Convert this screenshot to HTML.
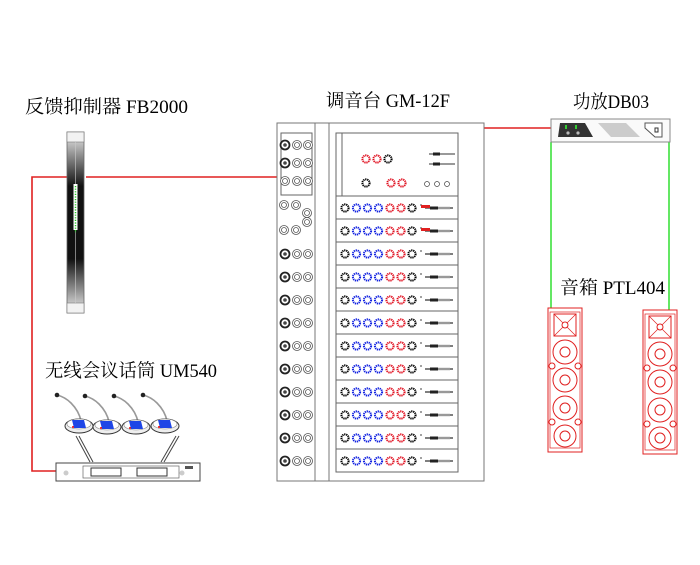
<!DOCTYPE html>
<html><head><meta charset="utf-8"><style>
body{margin:0;background:#fff;width:700px;height:560px;overflow:hidden}
text{font-family:"Liberation Serif","Noto Serif CJK SC","Noto Sans CJK SC",serif;font-size:18.5px;fill:#000}
</style></head><body>
<svg width="700" height="560" viewBox="0 0 700 560" xmlns="http://www.w3.org/2000/svg">
<defs>
<linearGradient id="fb" x1="0" x2="0" y1="0" y2="1">
<stop offset="0" stop-color="#eee"/><stop offset="0.3" stop-color="#111"/><stop offset="0.7" stop-color="#111"/><stop offset="1" stop-color="#eee"/></linearGradient>
<g id="kb"><circle r="3.6" fill="#fff" stroke="#000" stroke-width="2" stroke-dasharray="1.3 0.7"/></g>
<g id="kl"><circle r="3.6" fill="#fff" stroke="#1020e0" stroke-width="2" stroke-dasharray="1.3 0.7"/></g>
<g id="kr"><circle r="3.6" fill="#fff" stroke="#e01020" stroke-width="2" stroke-dasharray="1.3 0.7"/></g>
<g id="ring"><circle r="4.5" fill="#fff" stroke="#555" stroke-width="0.8"/><circle r="2.5" fill="none" stroke="#555" stroke-width="0.8"/></g>
<g id="xlr"><circle r="4.5" fill="#fff" stroke="#222" stroke-width="1.8"/><circle r="1.8" fill="#444"/></g>
<g id="strip">
<rect x="336" y="0" width="122" height="23" fill="#fff" stroke="#666" stroke-width="1"/>
<use href="#kb" x="345" y="12"/><use href="#kl" x="356.5" y="12"/><use href="#kl" x="367.5" y="12"/><use href="#kl" x="378.5" y="12"/><use href="#kr" x="390" y="12"/><use href="#kr" x="401" y="12"/><use href="#kb" x="412" y="12"/>
<line x1="421" y1="8" x2="421" y2="10" stroke="#444"/>
<line x1="425" y1="12" x2="453" y2="12" stroke="#333" stroke-width="1.2"/>
<rect x="430" y="10.5" width="8" height="3" fill="#222"/>
<rect x="438" y="10.8" width="12" height="2.4" fill="#999"/>
<use href="#xlr" x="285" y="12"/><use href="#ring" x="297" y="12"/><use href="#ring" x="308" y="12"/>
</g>
<g id="spk">
<rect x="0" y="0" width="34" height="144" fill="#fff" stroke="#e02020" stroke-width="1"/>
<rect x="2" y="4" width="30" height="136" fill="none" stroke="#e02020" stroke-width="0.7"/>
<rect x="6" y="6" width="22" height="22" fill="none" stroke="#e02020"/>
<path d="M6 6L28 28M28 6L6 28" stroke="#e02020" stroke-width="0.7"/><circle cx="17" cy="17" r="3" fill="#fff" stroke="#e02020"/>
<circle cx="17" cy="44" r="12" fill="#fff" stroke="#e02020"/><circle cx="17" cy="44" r="5" fill="none" stroke="#e02020"/>
<circle cx="17" cy="72" r="12" fill="#fff" stroke="#e02020"/><circle cx="17" cy="72" r="5" fill="none" stroke="#e02020"/>
<circle cx="17" cy="100" r="12" fill="#fff" stroke="#e02020"/><circle cx="17" cy="100" r="5" fill="none" stroke="#e02020"/>
<circle cx="17" cy="128" r="11" fill="#fff" stroke="#e02020"/><circle cx="17" cy="128" r="5" fill="none" stroke="#e02020"/>
<circle cx="4" cy="58" r="3" fill="#fff" stroke="#e02020"/><circle cx="30" cy="58" r="3" fill="#fff" stroke="#e02020"/>
<circle cx="4" cy="114" r="3" fill="#fff" stroke="#e02020"/><circle cx="30" cy="114" r="3" fill="#fff" stroke="#e02020"/>
</g>
<g id="mic">
<path d="M0 0 Q8 2 14 8 Q22 16 24 26" fill="none" stroke="#999" stroke-width="1.6"/>
<circle cx="0" cy="0" r="2.3" fill="#222"/>
<ellipse cx="22" cy="31" rx="14" ry="7" fill="#eee" stroke="#333"/>
<ellipse cx="22" cy="29" rx="12" ry="5" fill="#fff" stroke="#888" stroke-width="0.6"/>
<path d="M15 25L27 25L29 33L17 33Z" fill="#1e46e6"/>
<circle cx="16" cy="32" r="1" fill="#e00"/>
</g>
</defs>

<text x="25" y="113" textLength="163" lengthAdjust="spacingAndGlyphs">反馈抑制器 FB2000</text>
<text x="326" y="107" textLength="124" lengthAdjust="spacingAndGlyphs">调音台 GM-12F</text>
<text x="573" y="108" textLength="76" lengthAdjust="spacingAndGlyphs">功放DB03</text>
<text x="560" y="294" textLength="105" lengthAdjust="spacingAndGlyphs">音箱 PTL404</text>
<text x="45" y="377" textLength="172" lengthAdjust="spacingAndGlyphs">无线会议话筒 UM540</text>

<polyline points="277,177 86,177" fill="none" stroke="#e02020" stroke-width="1.6"/>
<polyline points="68,177 32,177 32,471 56,471" fill="none" stroke="#e02020" stroke-width="1.6"/>
<line x1="484" y1="128" x2="556" y2="128" stroke="#e02020" stroke-width="1.6"/>
<line x1="551" y1="142" x2="551" y2="310" stroke="#22dd22" stroke-width="1.4"/>
<line x1="669" y1="142" x2="669" y2="312" stroke="#22dd22" stroke-width="1.4"/>

<rect x="67" y="132" width="17" height="181" fill="url(#fb)" stroke="#666" stroke-width="0.8"/>
<rect x="67" y="132" width="17" height="10" fill="#f2f2f2" stroke="#777" stroke-width="0.6"/>
<rect x="67" y="303" width="17" height="10" fill="#f2f2f2" stroke="#777" stroke-width="0.6"/>
<line x1="75.5" y1="142" x2="75.5" y2="303" stroke="#ccc" stroke-width="0.6"/>
<rect x="73.5" y="184" width="4" height="46" fill="#fff"/>
<line x1="75.5" y1="186" x2="75.5" y2="233" stroke="#22cc22" stroke-width="1.5" stroke-dasharray="1.2 1.4"/>

<rect x="277" y="123" width="207" height="358" fill="#fff" stroke="#777" stroke-width="1"/>
<line x1="315" y1="123" x2="315" y2="481" stroke="#777"/>
<line x1="329" y1="123" x2="329" y2="481" stroke="#777"/>
<rect x="281" y="133" width="31" height="62" fill="#fff" stroke="#666"/>
<use href="#xlr" x="285" y="145"/><use href="#ring" x="297" y="145"/><use href="#ring" x="308" y="145"/>
<use href="#xlr" x="285" y="163"/><use href="#ring" x="297" y="163"/><use href="#ring" x="308" y="163"/>
<use href="#ring" x="285" y="181"/><use href="#ring" x="297" y="181"/><use href="#ring" x="308" y="181"/>
<rect x="336" y="133" width="122" height="63" fill="#fff" stroke="#666"/>
<line x1="342" y1="133" x2="342" y2="196" stroke="#666"/>
<use href="#kr" x="366" y="159"/><use href="#kr" x="377" y="159"/><use href="#kb" x="388" y="159"/>
<use href="#kb" x="366" y="183"/><use href="#kr" x="391" y="183"/><use href="#kr" x="402" y="183"/>
<circle cx="427" cy="184" r="2.5" fill="#fff" stroke="#444" stroke-width="0.7"/><circle cx="437" cy="184" r="2.5" fill="#fff" stroke="#444" stroke-width="0.7"/><circle cx="447" cy="184" r="2.5" fill="#fff" stroke="#444" stroke-width="0.7"/>
<line x1="429" y1="154" x2="455" y2="154" stroke="#333"/><rect x="433" y="152.5" width="7" height="3" fill="#222"/><rect x="441" y="153" width="12" height="2" fill="#999"/>
<line x1="429" y1="164" x2="455" y2="164" stroke="#333"/><rect x="433" y="162.5" width="7" height="3" fill="#222"/><rect x="441" y="163" width="12" height="2" fill="#999"/>
<use href="#strip" y="196"/>
<use href="#strip" y="219"/>
<use href="#strip" y="242"/>
<use href="#strip" y="265"/>
<use href="#strip" y="288"/>
<use href="#strip" y="311"/>
<use href="#strip" y="334"/>
<use href="#strip" y="357"/>
<use href="#strip" y="380"/>
<use href="#strip" y="403"/>
<use href="#strip" y="426"/>
<use href="#strip" y="449"/>
<rect x="279" y="198" width="34" height="40" fill="#fff"/>
<use href="#ring" x="284" y="205"/><use href="#ring" x="296" y="205"/><use href="#ring" x="307" y="213"/><use href="#ring" x="307" y="222"/><use href="#ring" x="284" y="230"/><use href="#ring" x="296" y="230"/>
<rect x="421" y="205" width="9" height="3" fill="#e02020"/><rect x="421" y="228" width="9" height="3" fill="#e02020"/>

<rect x="551" y="119" width="119" height="23" fill="#fafafa" stroke="#888"/>
<path d="M560 123L585 123L593 137L558 137Z" fill="#333"/>
<rect x="565" y="125" width="2" height="4" fill="#3c3"/><rect x="575" y="125" width="2" height="4" fill="#3c3"/>
<circle cx="568" cy="133" r="1.6" fill="#bbb"/><circle cx="578" cy="133" r="1.6" fill="#bbb"/>
<path d="M598 123L626 123L640 137L611 137Z" fill="#ccc"/>
<path d="M645 123L662 123L662 137L655 137L645 128Z" fill="#fff" stroke="#555"/>
<rect x="655" y="128" width="3" height="4" fill="none" stroke="#333"/>

<use href="#spk" x="548" y="308"/>
<use href="#spk" x="643" y="310"/>

<use href="#mic" x="57" y="395"/>
<use href="#mic" x="85" y="396"/>
<use href="#mic" x="114" y="396"/>
<use href="#mic" x="143" y="395"/>
<line x1="76" y1="436" x2="90" y2="462" stroke="#444"/><line x1="79" y1="436" x2="93" y2="462" stroke="#444"/>
<line x1="179" y1="436" x2="164" y2="462" stroke="#444"/><line x1="176" y1="436" x2="161" y2="462" stroke="#444"/>
<rect x="56" y="463" width="144" height="18" fill="#fff" stroke="#444"/>
<rect x="83" y="466" width="96" height="12" fill="#fff" stroke="#666" stroke-width="0.7"/>
<rect x="91" y="468" width="30" height="8" fill="#fff" stroke="#333"/>
<rect x="137" y="468" width="30" height="8" fill="#fff" stroke="#333"/>
<circle cx="66" cy="473" r="2.5" fill="#ccc"/><circle cx="182" cy="473" r="2.5" fill="#ccc"/>
<rect x="185" y="466" width="8" height="3" fill="#555"/>
</svg>
</body></html>
